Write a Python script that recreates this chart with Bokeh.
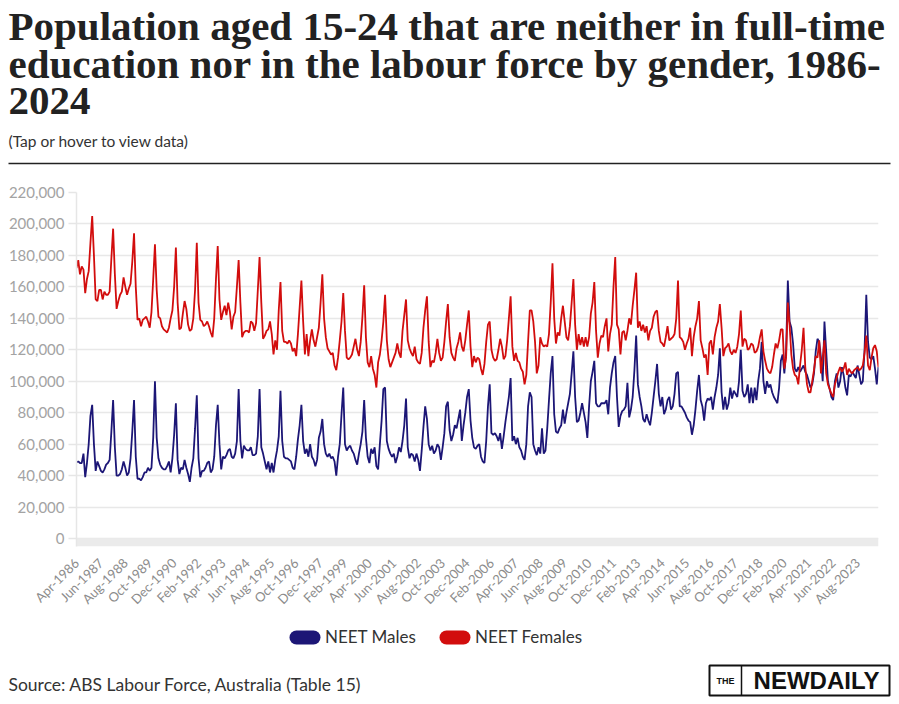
import math
import pandas as pd
from bokeh.plotting import figure
from bokeh.layouts import column
from bokeh.models import (ColumnDataSource, Range1d, FixedTicker, NumeralTickFormatter,
                          BoxAnnotation, Legend, LegendItem)
from bokeh.embed import file_html
from bokeh.resources import INLINE
from bokeh.core.properties import value

# ---------------- texts ----------------
TITLE_LINES = ["Population aged 15-24 that are neither in full-time",
               "education nor in the labour force by gender, 1986-",
               "2024"]
SUBTITLE = "(Tap or hover to view data)"
SOURCE = "Source: ABS Labour Force, Australia (Table 15)"
SERIES_NAMES = ["NEET Males", "NEET Females"]
START_MONTH = "1986-04"

# x-axis tick labels (every 14th month)
tick_labels = ["Apr-1986", "Jun-1987", "Aug-1988", "Oct-1989", "Dec-1990", "Feb-1992",
               "Apr-1993", "Jun-1994", "Aug-1995", "Oct-1996", "Dec-1997", "Feb-1999",
               "Apr-2000", "Jun-2001", "Aug-2002", "Oct-2003", "Dec-2004", "Feb-2006",
               "Apr-2007", "Jun-2008", "Aug-2009", "Oct-2010", "Dec-2011", "Feb-2013",
               "Apr-2014", "Jun-2015", "Aug-2016", "Oct-2017", "Dec-2018", "Feb-2020",
               "Apr-2021", "Jun-2022", "Aug-2023"]
y_ticks = [0, 20000, 40000, 60000, 80000, 100000, 120000, 140000, 160000, 180000, 200000, 220000]

# ---------------- data (thousands, monthly, Apr-1986 .. Aug-2024) ----------------
males_1986_1989 = [
    48.5, 49, 48, 48, 54, 39, 48, 60, 78,
    85, 60, 43, 49, 46, 43, 42, 44, 47, 48, 50, 68,
    88, 58, 40, 40, 41, 44, 49, 45, 40, 42, 51, 68,
    88, 52, 38, 38, 37, 39, 42, 42, 45, 43, 45, 64]
males_1990s = [
    100, 64, 51, 47, 45, 44, 44, 46, 49, 42, 51, 66,
    86, 50, 41, 45, 44, 50, 45, 41, 36, 45, 51, 70,
    91, 51, 39, 43, 43, 45, 48, 49, 42, 44, 52, 72,
    85, 60, 44, 52, 51, 53, 56, 57, 52, 51, 54, 62,
    95, 62, 51, 59, 57, 56, 56, 58, 53, 53, 54, 65,
    95, 58, 54, 49, 44, 49, 42, 48, 42, 50, 56, 65,
    94, 62, 52, 51, 51, 50, 49, 45, 44, 52, 63, 72,
    85, 62, 54, 57, 52, 60, 52, 50, 46, 50, 64, 68,
    76, 60, 54, 52, 54, 51, 52, 49, 40, 52, 60, 79,
    96, 60, 56, 58, 59, 56, 54, 50, 47, 54, 60, 68]
males_2000s = [
    88, 64, 52, 48, 57, 54, 58, 46, 44, 60, 75, 95,
    96, 62, 57, 54, 52, 54, 48, 52, 58, 55, 62, 72,
    89, 58, 51, 54, 53, 49, 54, 50, 43, 56, 71, 84,
    76, 60, 56, 59, 54, 56, 60, 58, 50, 58, 67, 84,
    87, 69, 62, 66, 72, 70, 76, 82, 62, 72, 80, 90,
    95, 75, 64, 58, 57, 59, 60, 52, 49, 48, 62, 84,
    98, 67, 66, 67, 65, 62, 67, 57, 65, 74, 82, 90,
    102, 62, 65, 60, 64, 58, 56, 52, 50, 60, 84, 93,
    90, 60, 56, 53, 58, 54, 70, 54, 56, 70, 88, 105,
    116, 79, 68, 67, 70, 72, 82, 73, 80, 86, 92, 105]
males_2010s = [
    119, 90, 74, 75, 80, 86, 80, 74, 64, 84, 100, 106,
    113, 86, 84, 84, 86, 86, 86, 88, 79, 96, 105, 112,
    116, 90, 71, 78, 81, 82, 84, 99, 77, 82, 90, 107,
    129, 98, 90, 84, 76, 74, 79, 75, 72, 80, 90, 100,
    111, 92, 84, 90, 79, 82, 88, 90, 82, 84, 92, 105,
    106, 84, 84, 82, 80, 77, 75, 74, 66, 72, 82, 94,
    104, 88, 84, 75, 86, 89, 88, 90, 82, 90, 96, 104,
    121, 93, 82, 90, 82, 86, 96, 89, 94, 92, 90, 100,
    120, 94, 90, 92, 98, 86, 96, 86, 96, 88, 100, 108,
    125, 100, 92, 100, 96, 98, 93, 90, 88, 86, 96, 113]
males_2020s = [
    117, 105, 119, 164, 138, 134, 124, 108, 106, 109, 106, 108,
    110, 106, 104, 100, 96, 98, 105, 119, 127, 125, 115, 100,
    138, 119, 100, 95, 90, 88, 100, 105, 96, 100, 109, 104,
    96, 91, 104, 103, 106, 104, 102, 110, 104, 98, 100, 120,
    155, 125, 115, 114, 116, 108, 98, 109]

females_1986_1989 = [
    172, 177, 168, 173, 171, 156, 165, 170, 188,
    205, 180, 152, 151, 158, 158, 152, 157, 155, 155, 157, 178,
    197, 168, 146, 151, 155, 157, 166, 160, 155, 159, 162, 176,
    194, 160, 139, 140, 135, 139, 140, 141, 138, 134, 144, 165]
females_1990s = [
    187, 158, 141, 140, 135, 133, 132, 131, 134, 140, 145, 160,
    185, 150, 133, 134, 143, 151, 146, 136, 132, 133, 140, 158,
    188, 150, 139, 138, 135, 136, 138, 135, 131, 128, 140, 165,
    186, 152, 139, 144, 148, 142, 150, 144, 133, 141, 144, 160,
    177, 150, 128, 131, 132, 132, 131, 138, 137, 132, 137, 158,
    179, 150, 127, 129, 132, 133, 138, 130, 117, 126, 120, 145,
    163, 132, 125, 125, 124, 126, 124, 119, 121, 116, 130, 147,
    164, 138, 117, 130, 116, 126, 133, 126, 122, 128, 134, 150,
    168, 140, 128, 121, 119, 117, 118, 110, 107, 115, 126, 138,
    156, 132, 115, 114, 115, 117, 122, 127, 120, 116, 125, 141]
females_2000s = [
    161, 128, 112, 109, 116, 108, 104, 96, 112, 117, 126, 138,
    155, 126, 114, 109, 112, 115, 118, 124, 118, 115, 132, 142,
    152, 126, 121, 118, 116, 122, 114, 112, 111, 118, 134, 145,
    154, 125, 109, 113, 112, 118, 127, 118, 113, 115, 125, 138,
    149, 128, 118, 115, 113, 121, 125, 131, 122, 119, 126, 136,
    145, 122, 109, 116, 112, 115, 114, 108, 104, 111, 125, 136,
    138, 120, 115, 113, 114, 120, 127, 122, 114, 116, 126, 140,
    154, 122, 113, 118, 113, 112, 108, 106, 98, 104, 125, 145,
    145, 138, 125, 105, 110, 128, 124, 122, 123, 122, 130, 150,
    175, 140, 124, 131, 129, 140, 148, 138, 128, 126, 135, 150]
females_2010s = [
    165, 136, 120, 130, 123, 128, 122, 128, 122, 128, 143, 150,
    163, 132, 115, 124, 129, 128, 135, 140, 119, 130, 136, 160,
    179, 136, 133, 117, 131, 132, 126, 132, 140, 136, 148, 158,
    169, 134, 138, 132, 136, 131, 135, 126, 132, 134, 141, 144,
    145, 132, 125, 124, 122, 128, 135, 126, 127, 128, 130, 140,
    164, 128, 127, 125, 120, 124, 127, 134, 116, 128, 135, 140,
    151, 126, 121, 115, 117, 104, 124, 126, 117, 128, 134, 138,
    149, 134, 116, 121, 122, 124, 119, 117, 120, 118, 122, 130,
    145, 122, 127, 126, 120, 121, 124, 123, 118, 119, 122, 128,
    133, 119, 113, 108, 106, 105, 109, 117, 124, 121, 126, 133]
females_2020s = [
    133, 108, 115, 150, 136, 117, 108, 104, 103, 98, 110, 120,
    134, 109, 98, 93, 93, 100, 107, 116, 115, 126, 105, 115,
    126, 105, 98, 95, 92, 90, 98, 102, 106, 109, 106, 108,
    112, 104, 108, 106, 105, 107, 108, 109, 107, 108, 110, 118,
    129, 110, 107, 115, 121, 123, 119, 109]

males_k = males_1986_1989 + males_1990s + males_2000s + males_2010s + males_2020s
females_k = females_1986_1989 + females_1990s + females_2000s + females_2010s + females_2020s
n = len(males_k)
months = pd.period_range(START_MONTH, periods=n, freq="M").strftime("%b-%Y").tolist()

# ---------------- styles ----------------
BLUE = "#1c1676"
RED = "#d20d0d"
W = 899
FONT = "Lato"

# ---------------- header ----------------
HH = 184
header = figure(width=W, height=HH, x_range=Range1d(0, W), y_range=Range1d(0, HH),
                x_axis_type=None, y_axis_type=None, output_backend="svg",
                toolbar_location=None, min_border=0)
header.frame_align = False
header.outline_line_color = None
header.grid.visible = False
for txt, yc in zip(TITLE_LINES, [159, 121, 84]):
    header.text(x=[8], y=[yc], text=[txt], text_font=value("Liberation Serif"),
                text_font_style="bold", text_font_size="41px", text_color="#222222",
                text_baseline="middle", text_align="left")
header.text(x=[8], y=[44], text=[SUBTITLE], text_font=value(FONT), text_font_size="15.5px",
            text_color="#333333", text_baseline="middle")
header.segment(x0=[8], y0=[21], x1=[890], y1=[21], line_color="#222222", line_width=1.5)

# ---------------- main chart ----------------
MH = 431
TOP_B, BOT_B = 8, 68
band_px = 8
frame_h = MH - TOP_B - BOT_B
y_start = -220000 * band_px / (frame_h - band_px)

src = ColumnDataSource(dict(x=list(range(n)), month=months,
                            males=[v * 1000 for v in males_k],
                            females=[v * 1000 for v in females_k]))

p = figure(width=W, height=MH, x_range=Range1d(0, n - 1), y_range=Range1d(y_start, 220000),
           output_backend="svg", toolbar_location=None,
           min_border_left=76, min_border_right=21, min_border_top=TOP_B, min_border_bottom=BOT_B)
p.frame_align = False
p.outline_line_color = None
p.background_fill_color = "white"

p.add_layout(BoxAnnotation(bottom=y_start, top=0, fill_color="#ebebeb", fill_alpha=1.0,
                           line_color=None, level="underlay"))

p.line("x", "males", source=src, color=BLUE, line_width=1.8)
p.line("x", "females", source=src, color=RED, line_width=1.8)

p.xgrid.grid_line_color = None
p.ygrid.ticker = FixedTicker(ticks=y_ticks)
p.ygrid.grid_line_color = "#e8e8e8"
p.ygrid.grid_line_width = 1.5

p.yaxis.ticker = FixedTicker(ticks=y_ticks)
p.yaxis.formatter = NumeralTickFormatter(format="0,0")
p.yaxis.major_label_text_font = FONT
p.yaxis.major_label_text_font_size = "15px"
p.yaxis.major_label_text_color = "#a3a3a3"
p.yaxis.axis_line_color = "#e6e6e6"
p.yaxis.axis_line_width = 1.5
p.yaxis.major_tick_line_color = "#e6e6e6"
p.yaxis.major_tick_line_width = 1.5
p.yaxis.major_tick_out = 8
p.yaxis.major_tick_in = 0
p.yaxis.minor_tick_line_color = None
p.yaxis.major_label_standoff = 4

tick_pos = [14 * k for k in range(len(tick_labels))]
p.xaxis.ticker = FixedTicker(ticks=tick_pos)
p.xaxis.major_label_overrides = {t: lab for t, lab in zip(tick_pos, tick_labels)}
p.xaxis.major_label_orientation = math.pi / 4
p.xaxis.major_label_text_font = FONT
p.xaxis.major_label_text_font_size = "13px"
p.xaxis.major_label_text_color = "#8c8c8c"
p.xaxis.axis_line_color = None
p.xaxis.major_tick_line_color = None
p.xaxis.minor_tick_line_color = None
p.xaxis.major_label_standoff = 8

# ---------------- footer ----------------
FH = 88
footer = figure(width=W, height=FH, x_range=Range1d(0, W), y_range=Range1d(0, FH),
                x_axis_type=None, y_axis_type=None, output_backend="svg",
                toolbar_location=None, min_border=0)
footer.frame_align = False
footer.outline_line_color = None
footer.grid.visible = False

LEG_Y = 56          # legend bottom
LEG_X = [289, 439]  # legend item left edges
GW = 31
for name, color, lx in zip(SERIES_NAMES, [BLUE, RED], LEG_X):
    # pill-shaped legend key
    footer.segment(x0=[lx + 7], y0=[LEG_Y + 10], x1=[lx + GW - 7], y1=[LEG_Y + 10],
                   line_color=color, line_width=14, line_cap="round")
    dummy = footer.line(x=[-60, -50], y=[-60, -60], color=color, line_alpha=0)
    lg = Legend(items=[LegendItem(label=name, renderers=[dummy])],
                location=(lx, LEG_Y), orientation="horizontal",
                background_fill_alpha=0, border_line_color=None,
                label_text_font=FONT, label_text_font_size="17px", label_text_color="#333333",
                glyph_width=GW, glyph_height=14, label_height=20, label_standoff=5,
                spacing=0, padding=0, margin=0)
    footer.add_layout(lg)

footer.text(x=[8], y=[19], text=[SOURCE], text_font=value(FONT), text_font_size="17.5px",
            text_color="#333333", text_baseline="middle")

# logo
footer.quad(left=[709], right=[889], bottom=[8], top=[38], fill_color=None,
            line_color="#111111", line_width=2)
footer.segment(x0=[741], y0=[8], x1=[741], y1=[38], line_color="#111111", line_width=1.5)
footer.text(x=[725], y=[23], text=["THE"], text_font=value("Liberation Sans"),
            text_font_size="9px", text_font_style="bold", text_color="#111111",
            text_align="center", text_baseline="middle")
footer.text(x=[816], y=[23], text=["NEWDAILY"], text_font=value("Liberation Sans"),
            text_font_size="24px", text_font_style="bold", text_color="#111111",
            text_align="center", text_baseline="middle")

layout = column(header, p, footer, spacing=0)
open("out.html", "w").write(file_html(layout, INLINE, title="NEET by gender"))
